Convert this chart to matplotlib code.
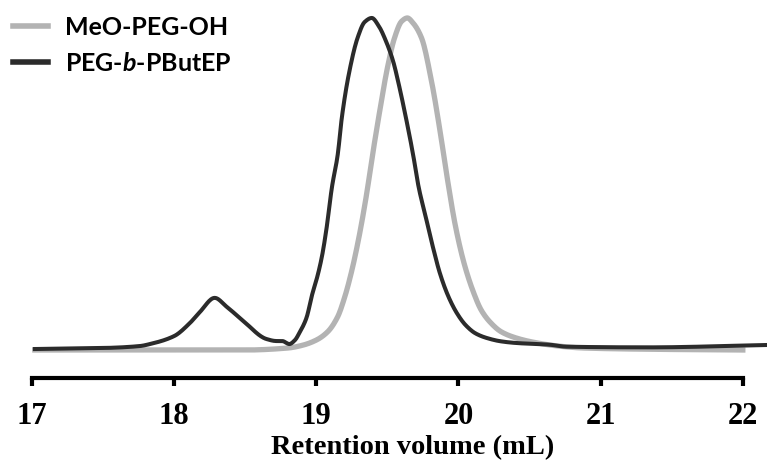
import matplotlib
matplotlib.use("Agg")
import matplotlib.pyplot as plt
import numpy as np

# retention volume (mL) / normalised detector signal
peg_x = [17.02, 17.8, 18.5, 18.8, 18.9, 19.00, 19.08, 19.15, 19.20, 19.25, 19.30,
         19.35, 19.40, 19.45, 19.50, 19.55, 19.60, 19.64, 19.68, 19.74, 19.81, 19.87,
         19.92, 19.98, 20.04, 20.10, 20.16, 20.22, 20.30, 20.40, 20.52, 20.70, 20.88,
         21.4, 22.0]
peg_y = [0.0, 0.0, 0.0, 0.006, 0.014, 0.030, 0.055, 0.10, 0.16, 0.24, 0.34,
         0.46, 0.60, 0.73, 0.85, 0.94, 0.99, 1.0, 0.985, 0.94, 0.81, 0.66,
         0.52, 0.37, 0.26, 0.18, 0.12, 0.085, 0.055, 0.037, 0.024, 0.012, 0.006,
         0.002, 0.0]

blk_x = [17.02, 17.5, 17.76, 17.83, 18.00, 18.11, 18.18, 18.285, 18.37, 18.48, 18.65,
         18.72, 18.76, 18.81, 18.85, 18.88, 18.93, 18.97, 19.01, 19.04, 19.07, 19.11,
         19.15, 19.18, 19.23, 19.29, 19.34, 19.39, 19.44, 19.49, 19.54, 19.58, 19.63,
         19.68, 19.72, 19.77, 19.82, 19.87, 19.93, 19.99, 20.05, 20.12, 20.20, 20.30,
         20.41, 20.64, 20.76, 21.34, 22.16]
blk_y = [0.003, 0.006, 0.012, 0.018, 0.042, 0.081, 0.114, 0.157, 0.13, 0.09, 0.033,
         0.027, 0.027, 0.018, 0.030, 0.051, 0.096, 0.166, 0.226, 0.283, 0.361, 0.491,
         0.587, 0.702, 0.834, 0.940, 0.988, 1.0, 0.975, 0.93, 0.87, 0.80, 0.70,
         0.59, 0.49, 0.40, 0.31, 0.23, 0.16, 0.11, 0.075, 0.05, 0.036, 0.026,
         0.021, 0.016, 0.010, 0.008, 0.015]

labels = ["MeO-PEG-OH", r"PEG-$\mathbfit{b}$-PButEP"]
xticks = [17, 18, 19, 20, 21, 22]

plt.rcParams["mathtext.fontset"] = "custom"
plt.rcParams["mathtext.bfit"] = "Lato:italic:bold"
plt.rcParams["mathtext.rm"] = "Lato:bold"


def pchip(xs, ys, n=1200):
    # Fritsch-Carlson monotone cubic through the read points
    xs = np.asarray(xs, float)
    ys = np.asarray(ys, float)
    h = np.diff(xs)
    d = np.diff(ys) / h
    m = np.zeros(len(xs))
    for i in range(1, len(xs) - 1):
        if d[i - 1] * d[i] > 0:
            w1 = 2 * h[i] + h[i - 1]
            w2 = h[i] + 2 * h[i - 1]
            m[i] = (w1 + w2) / (w1 / d[i - 1] + w2 / d[i])
    m[0] = d[0]
    m[-1] = d[-1]
    xx = np.linspace(xs[0], xs[-1], n)
    idx = np.clip(np.searchsorted(xs, xx) - 1, 0, len(xs) - 2)
    hh = h[idx]
    t = (xx - xs[idx]) / hh
    yy = ((2 * t**3 - 3 * t**2 + 1) * ys[idx] + (t**3 - 2 * t**2 + t) * hh * m[idx]
          + (-2 * t**3 + 3 * t**2) * ys[idx + 1] + (t**3 - t**2) * hh * m[idx + 1])
    return xx, yy


fig = plt.figure(figsize=(7.69, 4.61), dpi=100)
ax = fig.add_axes([32 / 769, 83 / 461, 735 / 769, 368 / 461])

gx, gy = pchip(peg_x, peg_y)
bx, by = pchip(blk_x, blk_y)
l1, = ax.plot(gx, gy, color="#b3b3b3", lw=3.8)
l2, = ax.plot(bx, by, color="#2b2b2b", lw=2.9)

ax.set_xlim(17, 22.17)
ax.set_ylim(-0.0843, 1.024)
ax.set_yticks([])
for s in ["left", "top", "right"]:
    ax.spines[s].set_visible(False)
ax.spines["bottom"].set_linewidth(3)
ax.spines["bottom"].set_bounds(17, 22)
ax.set_xticks(xticks)
ax.tick_params(axis="x", direction="out", length=6, width=3, pad=11)
for t in ax.get_xticklabels():
    t.set_fontfamily("Liberation Serif")
    t.set_fontweight("bold")
    t.set_fontsize(22)
ax.set_xlabel("Retention volume (mL)", fontfamily="Liberation Serif",
              fontweight="bold", fontsize=20.5)
ax.xaxis.set_label_coords(0.518, -0.155)

leg = fig.legend([l1, l2], labels, loc="upper left",
                 bbox_to_anchor=(13 / 769, 1 - 16 / 461),
                 frameon=False, handlelength=1.4, handletextpad=0.68,
                 labelspacing=0.52, borderaxespad=0, borderpad=0,
                 prop={"family": "Lato", "weight": "bold", "size": 18})
for h in leg.legend_handles:
    h.set_linewidth(4)

fig.savefig("out.png", dpi=100)
